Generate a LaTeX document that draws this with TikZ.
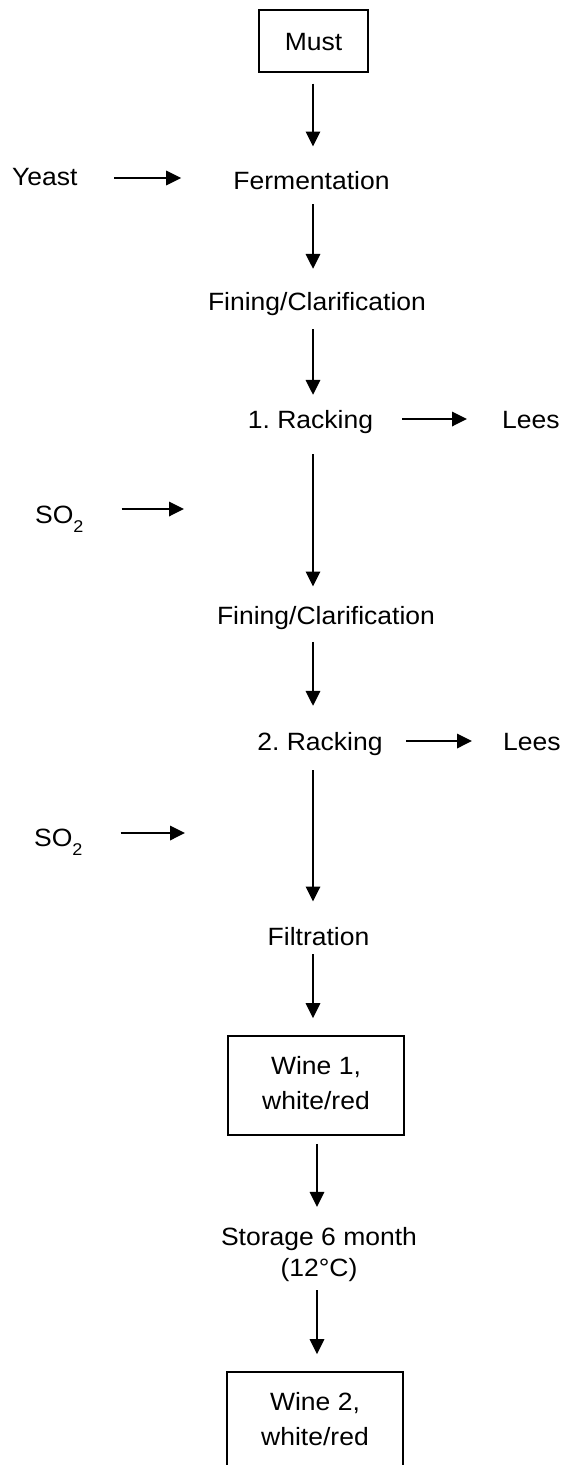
\documentclass[tikz,border=0pt]{standalone}
\usepackage{fontspec}
\setmainfont[FakeStretch=1.06]{Liberation Sans}
\usetikzlibrary{arrows.meta}
\frenchspacing
\newcommand{\sotwo}{SO\raisebox{-9pt}{\fontsize{17}{17}\selectfont 2}}
\begin{document}
\begin{tikzpicture}[x=1pt,y=-1pt,
  lbl/.style={inner sep=0pt, text height=18pt, text depth=0pt, anchor=base,
              font=\fontsize{25}{35}\selectfont},
  boxnode/.style={draw, line width=1.8pt, inner sep=0pt, align=center,
              font=\fontsize{25}{35}\selectfont},
  flow/.style={line width=1.8pt, -{Triangle[length=15pt,width=14.5pt]}}]
\clip (0,0) rectangle (561,1465);
\fill[white] (0,0) rectangle (561,1465);

% process column
\node[boxnode, minimum width=109pt, minimum height=62.3pt, text height=18pt, text depth=0pt]
  (must) at (313.5,41.2) {Must};
\node[lbl] (ferm)  at (311.5,189) {Fermentation};
\node[lbl] (fin1)  at (317,310)   {Fining/Clarification};
\node[lbl] (rack1) at (310.5,428) {1. Racking};
\node[lbl] (fin2)  at (326,624)   {Fining/Clarification};
\node[lbl] (rack2) at (320,750)   {2. Racking};
\node[lbl] (filt)  at (318.5,945) {Filtration};
\node[boxnode, minimum width=176pt, minimum height=99pt]
  (wine1) at (316,1085.5) {Wine 1,\\white/red\rule[-5pt]{0pt}{0pt}};
\node[inner sep=0pt, align=center, font=\fontsize{25}{31}\selectfont]
  (store) at (319,1255) {Storage 6 month\\(12°C)};
\node[boxnode, minimum width=176pt, minimum height=99pt]
  (wine2) at (315,1421.5) {Wine 2,\\white/red\rule[-5pt]{0pt}{0pt}};

% side inputs and outputs
\node[lbl, anchor=base west] (yeast) at (12,185)  {Yeast};
\node[lbl, anchor=base west] (lees1) at (502,428) {Lees};
\node[lbl, anchor=base west] (lees2) at (503,750) {Lees};
\node[lbl, anchor=base west] (so2a)  at (35,523)  {\sotwo};
\node[lbl, anchor=base west] (so2b)  at (34,846.7) {\sotwo};
\coordinate (so2aend) at (184,509);
\coordinate (so2bend) at (185,833);

% columns of the vertical connectors
\coordinate (colA) at (313,0);
\coordinate (colB) at (317,0);

% main flow
\draw[flow] ([yshift=-10.4pt]colA |- must.south) -- ([yshift=24.3pt]colA |- ferm.north);
\draw[flow] ([yshift=-15pt]colA |- ferm.south)   -- ([yshift=23pt]colA |- fin1.north);
\draw[flow] ([yshift=-19pt]colA |- fin1.south)   -- ([yshift=15pt]colA |- rack1.north);
\draw[flow] ([yshift=-26pt]colA |- rack1.south)  -- ([yshift=19.3pt]colA |- fin2.north);
\draw[flow] ([yshift=-17.7pt]colA |- fin2.south) -- ([yshift=26pt]colA |- rack2.north);
\draw[flow] ([yshift=-20pt]colA |- rack2.south)  -- ([yshift=25.3pt]colA |- filt.north);
\draw[flow] ([yshift=-9pt]colA |- filt.south)    -- ([yshift=17pt]colA |- wine1.north);
\draw[flow] ([yshift=-8pt]colB |- wine1.south)   -- ([yshift=20.8pt]colB |- store.north);
\draw[flow] ([yshift=-7.7pt]colB |- store.south) -- ([yshift=17pt]colB |- wine2.north);

% side connectors
\draw[flow] ([shift={(36.5pt,-2pt)}]yeast.east) -- ([shift={(-52pt,-2pt)}]yeast.east -| ferm.west);
\draw[flow] ([xshift=29pt]rack1.east) -- ([xshift=-35pt]rack1.east -| lees1.west);
\draw[flow] ([xshift=23.5pt]rack2.east) -- ([xshift=-31pt]rack2.east -| lees2.west);
\draw[flow] (so2a.east |- so2aend) ++(38pt,0) -- (so2aend);
\draw[flow] (so2b.east |- so2bend) ++(38pt,0) -- (so2bend);
\end{tikzpicture}
\end{document}
